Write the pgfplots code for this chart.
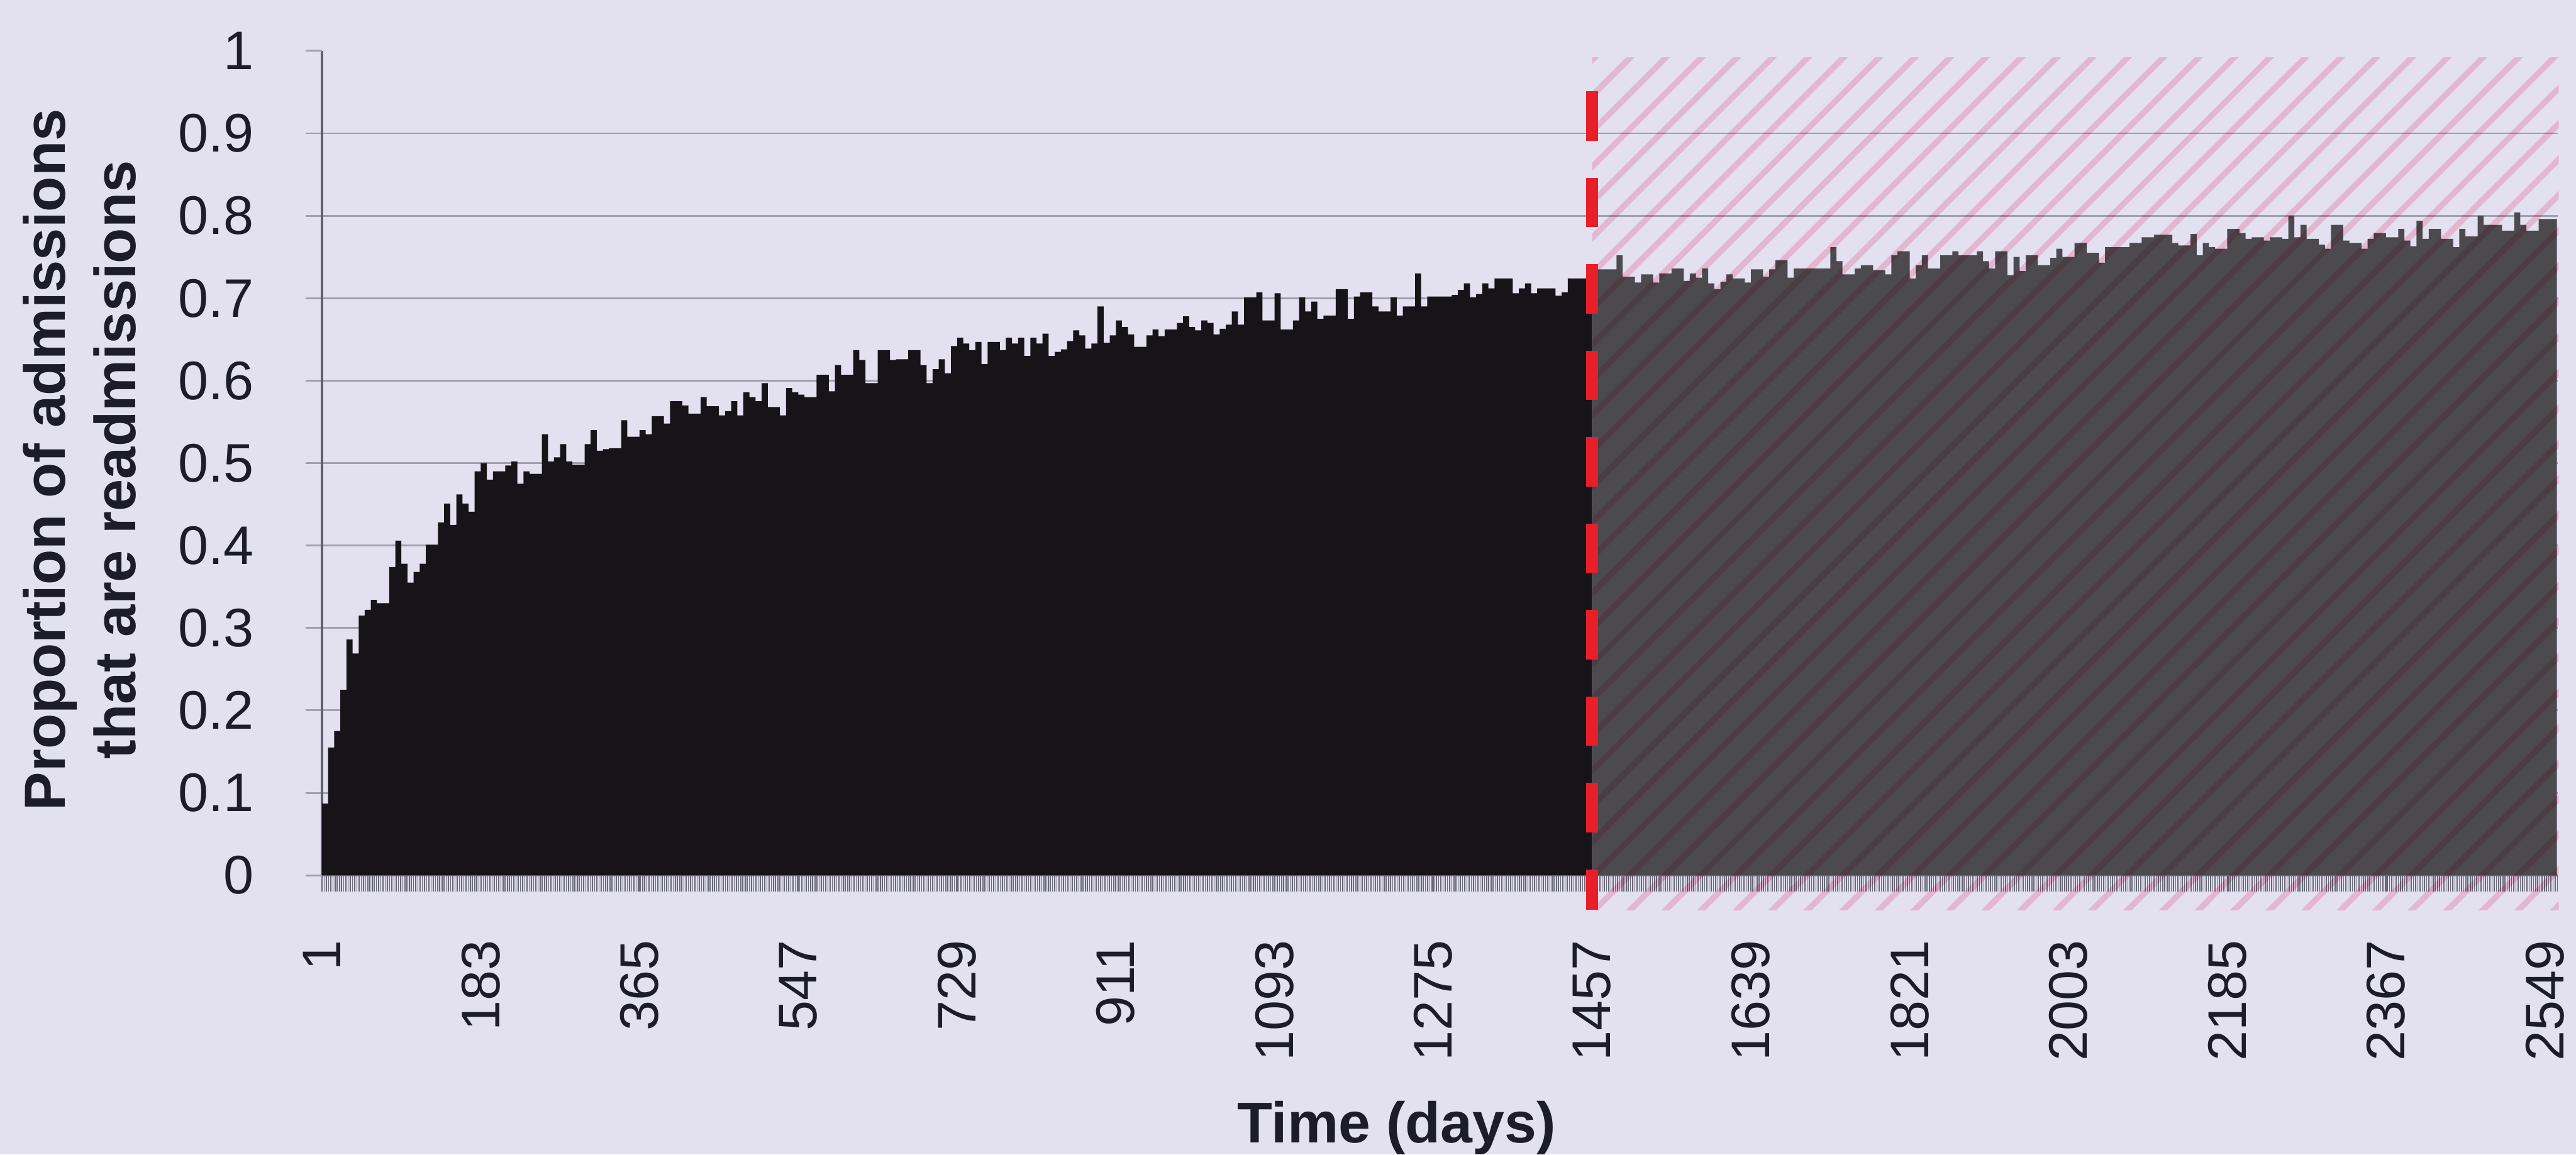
\documentclass[border=0pt]{standalone}
\usepackage{fontspec}
\setmainfont{Liberation Sans}
\usepackage{pgfplots}
\pgfplotsset{compat=1.18}
\usepackage{pgfplotstable}
\usetikzlibrary{patterns.meta}

\definecolor{bgc}{RGB}{227,225,240}
\definecolor{barblack}{RGB}{22,20,24}
\definecolor{bargray}{RGB}{76,74,79}
\definecolor{hatchc}{RGB}{255,208,222}
\definecolor{redline}{RGB}{232,30,40}
\definecolor{gridc}{RGB}{160,160,174}
\definecolor{axisc}{RGB}{95,95,110}
\definecolor{tickc}{RGB}{105,105,118}
\definecolor{textc}{RGB}{28,28,42}

% weekly proportions, days 1-1456 (last row closes the step)
\pgfplotstableread[row sep=\\]{
v\\
0.087\\ 0.155\\ 0.175\\ 0.225\\ 0.286\\ 0.269\\ 0.315\\ 0.322\\ 0.334\\ 0.330\\
0.330\\ 0.374\\ 0.406\\ 0.378\\ 0.355\\ 0.368\\ 0.378\\ 0.401\\ 0.401\\ 0.428\\
0.451\\ 0.425\\ 0.462\\ 0.451\\ 0.441\\ 0.490\\ 0.500\\ 0.480\\ 0.490\\ 0.490\\
0.497\\ 0.502\\ 0.475\\ 0.490\\ 0.487\\ 0.487\\ 0.535\\ 0.502\\ 0.507\\ 0.523\\
0.502\\ 0.498\\ 0.498\\ 0.523\\ 0.540\\ 0.515\\ 0.517\\ 0.518\\ 0.518\\ 0.552\\
0.532\\ 0.532\\ 0.540\\ 0.535\\ 0.557\\ 0.557\\ 0.548\\ 0.575\\ 0.575\\ 0.570\\
0.560\\ 0.560\\
0.580\\ 0.569\\ 0.569\\ 0.558\\ 0.563\\ 0.575\\ 0.558\\ 0.586\\ 0.580\\ 0.575\\
0.597\\ 0.568\\ 0.568\\ 0.558\\ 0.591\\ 0.586\\ 0.583\\ 0.580\\ 0.580\\ 0.607\\
0.607\\ 0.587\\ 0.619\\ 0.607\\ 0.607\\ 0.637\\ 0.625\\ 0.597\\ 0.597\\ 0.637\\
0.637\\ 0.625\\ 0.626\\ 0.626\\ 0.637\\ 0.637\\ 0.619\\ 0.597\\ 0.614\\ 0.626\\
0.609\\ 0.642\\ 0.652\\ 0.645\\ 0.637\\ 0.647\\ 0.620\\ 0.647\\ 0.647\\ 0.637\\
0.652\\ 0.645\\ 0.652\\ 0.630\\ 0.652\\ 0.645\\ 0.657\\ 0.630\\ 0.635\\ 0.638\\
0.648\\
0.661\\ 0.655\\ 0.639\\ 0.645\\ 0.690\\ 0.646\\ 0.655\\ 0.673\\ 0.665\\ 0.656\\
0.641\\ 0.641\\ 0.655\\ 0.662\\ 0.654\\ 0.662\\ 0.662\\ 0.670\\ 0.678\\ 0.665\\
0.661\\ 0.673\\ 0.670\\ 0.656\\ 0.663\\ 0.668\\ 0.684\\ 0.668\\ 0.701\\ 0.701\\
0.707\\ 0.673\\ 0.673\\ 0.706\\ 0.662\\ 0.662\\ 0.673\\ 0.701\\ 0.684\\ 0.696\\
0.675\\ 0.679\\ 0.679\\ 0.711\\ 0.711\\ 0.675\\ 0.702\\ 0.707\\ 0.707\\ 0.690\\
0.684\\ 0.684\\ 0.701\\ 0.679\\ 0.690\\ 0.690\\ 0.730\\ 0.690\\ 0.702\\ 0.702\\
0.702\\ 0.702\\
0.704\\ 0.710\\ 0.718\\ 0.701\\ 0.705\\ 0.718\\ 0.712\\ 0.724\\ 0.724\\ 0.724\\
0.706\\ 0.712\\ 0.718\\ 0.706\\ 0.712\\ 0.712\\ 0.712\\ 0.703\\ 0.707\\ 0.724\\
0.724\\ 0.724\\ 0.726\\
0.726\\
}\tabLeft

% weekly proportions, days 1457-2563 (last row closes the step)
\pgfplotstableread[row sep=\\]{
v\\
0.735\\ 0.735\\ 0.735\\ 0.735\\ 0.752\\ 0.726\\ 0.726\\ 0.719\\ 0.729\\ 0.729\\
0.719\\ 0.730\\ 0.730\\ 0.736\\ 0.736\\ 0.721\\ 0.730\\ 0.725\\ 0.736\\ 0.718\\
0.711\\ 0.720\\ 0.729\\ 0.724\\ 0.724\\ 0.719\\ 0.735\\ 0.735\\ 0.726\\ 0.735\\
0.746\\ 0.746\\ 0.725\\ 0.736\\ 0.736\\ 0.736\\ 0.736\\ 0.736\\ 0.736\\
0.762\\ 0.745\\ 0.729\\ 0.729\\ 0.736\\ 0.740\\ 0.740\\ 0.734\\ 0.734\\ 0.729\\
0.752\\ 0.757\\ 0.757\\ 0.724\\ 0.740\\ 0.752\\ 0.736\\ 0.736\\ 0.752\\ 0.752\\
0.757\\ 0.752\\ 0.752\\ 0.752\\ 0.757\\ 0.745\\ 0.736\\ 0.757\\ 0.757\\ 0.728\\
0.750\\ 0.733\\ 0.752\\ 0.752\\ 0.740\\ 0.740\\ 0.749\\ 0.760\\ 0.750\\ 0.750\\
0.767\\ 0.767\\ 0.755\\ 0.755\\ 0.743\\ 0.762\\ 0.762\\ 0.762\\ 0.762\\ 0.767\\
0.767\\ 0.774\\ 0.774\\ 0.777\\ 0.777\\ 0.777\\ 0.767\\ 0.764\\ 0.764\\ 0.778\\
0.752\\ 0.767\\
0.762\\ 0.760\\ 0.760\\ 0.784\\ 0.784\\ 0.779\\ 0.772\\ 0.774\\ 0.774\\ 0.770\\
0.774\\ 0.774\\ 0.772\\ 0.800\\ 0.774\\ 0.789\\ 0.772\\ 0.772\\ 0.765\\ 0.760\\
0.789\\ 0.789\\ 0.770\\ 0.767\\ 0.767\\ 0.760\\ 0.772\\ 0.779\\ 0.779\\ 0.774\\
0.774\\ 0.784\\ 0.770\\ 0.763\\ 0.794\\ 0.772\\ 0.784\\ 0.784\\ 0.772\\ 0.772\\
0.762\\ 0.784\\ 0.775\\ 0.775\\ 0.800\\ 0.789\\ 0.789\\ 0.789\\ 0.782\\ 0.782\\
0.804\\ 0.789\\ 0.782\\ 0.782\\ 0.796\\ 0.796\\ 0.796\\
0.796\\
}\tabRight

\begin{document}
\begin{tikzpicture}
\path[use as bounding box, fill=bgc] (0,0) rectangle (569.05pt,255.1pt);
\begin{axis}[
  at={(71.13pt,61.69pt)}, anchor=south west,
  scale only axis, width=493.9pt, height=182.17pt,
  xmin=1, xmax=2564, ymin=0, ymax=1,
  clip=false,
  axis x line*=bottom, axis y line*=left,
  x axis line style={draw=tickc, line width=0.3pt},
  y axis line style={draw=axisc, line width=0.55pt},
  xtick={1,183,...,2549},
  minor xtick={1,3.5,...,2564},
  ytick={0,0.1,0.2,0.3,0.4,0.5,0.6,0.7,0.8,0.9},
  extra y ticks={1},
  extra y tick style={grid=none},
  ymajorgrids,
  major grid style={draw=gridc, line width=0.4pt},
  tick align=outside,
  major tick length=3.6pt, minor tick length=3.6pt,
  x tick style={draw=tickc, line width=0.22pt},
  minor x tick style={draw=tickc, line width=0.22pt},
  y tick style={draw=gridc, line width=0.4pt},
  /pgf/number format/assume math mode=true,
  /pgf/number format/1000 sep={},
  ticklabel style={font=\fontsize{12}{14}\selectfont, text=textc},
  xticklabel style={rotate=90, anchor=east, inner sep=0pt},
  yticklabel style={anchor=east, inner sep=0pt},
  xticklabel shift=10.5pt,
  yticklabel shift=11.2pt,
]
\addplot[const plot mark left, draw=none, fill=barblack]
  table[x expr=\coordindex*7+1, y=v] {\tabLeft} \closedcycle;
\addplot[const plot mark left, draw=none, fill=bargray]
  table[x expr=\coordindex*7+1457, y=v] {\tabRight} \closedcycle;
% hatched band over the later period
\fill[blend mode=multiply, pattern={Lines[angle=45,distance=5.55pt,line width=1.3pt]}, pattern color=hatchc]
  (axis cs:1457,-0.042) rectangle (axis cs:2565,0.992);
\addplot[draw=redline, line width=2.7pt, dash pattern=on 10.9pt off 8.2pt]
  coordinates {(1457,0.951) (1457,-0.042)};
\end{axis}
\node[rotate=90, align=center, text=textc, font=\bfseries\fontsize{12.8}{15.6}\selectfont]
  at (17.6pt,153.5pt) {Proportion of admissions\\that are readmissions};
\node[anchor=base, text=textc, font=\bfseries\fontsize{12.7}{15}\selectfont]
  at (308.5pt,2.54pt) {Time (days)};
\end{tikzpicture}
\end{document}
